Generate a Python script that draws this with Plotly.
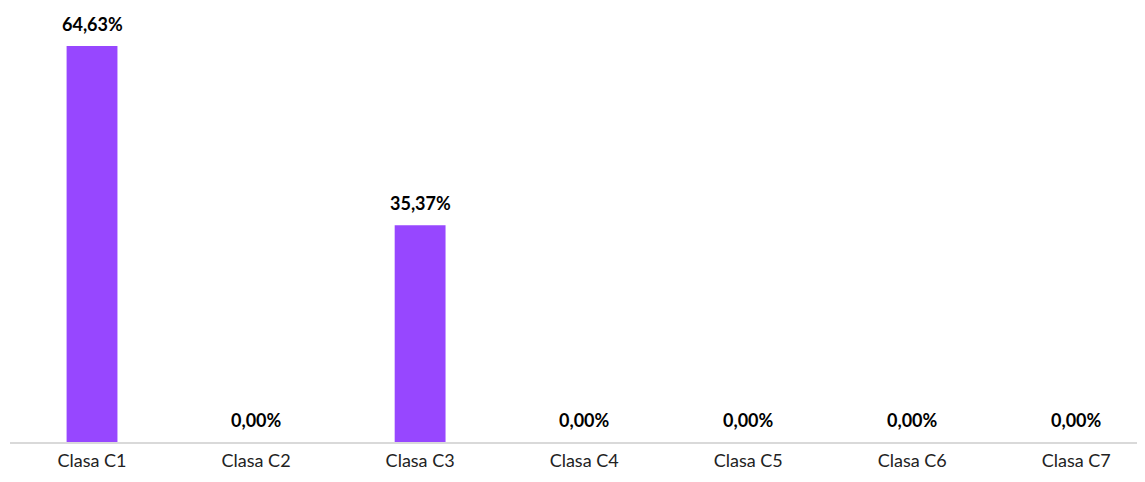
import plotly.graph_objects as go

categories = ["Clasa C1", "Clasa C2", "Clasa C3", "Clasa C4", "Clasa C5", "Clasa C6", "Clasa C7"]
values = [64.63, 0.0, 35.37, 0.0, 0.0, 0.0, 0.0]
labels = ["64,63%", "0,00%", "35,37%", "0,00%", "0,00%", "0,00%", "0,00%"]

font_family = "Lato, 'Open Sans', sans-serif"

fig = go.Figure()
fig.add_trace(go.Bar(
    x=categories,
    y=values,
    marker=dict(color="#9747FF", line=dict(width=0)),
    width=0.31,
    hoverinfo="skip",
))

# value labels above bars
for cat, val, lab in zip(categories, values, labels):
    fig.add_annotation(
        x=cat, y=val, text="<b>" + lab + "</b>",
        showarrow=False, yanchor="middle", yshift=22,
        font=dict(family=font_family, size=18, color="#000000"),
    )

# page body has an 8px margin, so the figure is sized to fit inside it
fig.update_layout(
    width=1129,
    height=466,
    margin=dict(l=2, r=0, t=2, b=32),
    plot_bgcolor="white",
    paper_bgcolor="white",
    showlegend=False,
    font=dict(family=font_family),
)
fig.update_xaxes(
    range=[-0.5, 6.37], automargin=False,
    showline=True, linecolor="#d9d9d9", linewidth=2,
    showgrid=False, ticks="outside", ticklen=1, tickcolor="rgba(0,0,0,0)",
    tickfont=dict(family=font_family, size=18, color="#222222"),
)
fig.update_yaxes(range=[0, 70.5], visible=False, showgrid=False)

fig.write_html("out.html")
